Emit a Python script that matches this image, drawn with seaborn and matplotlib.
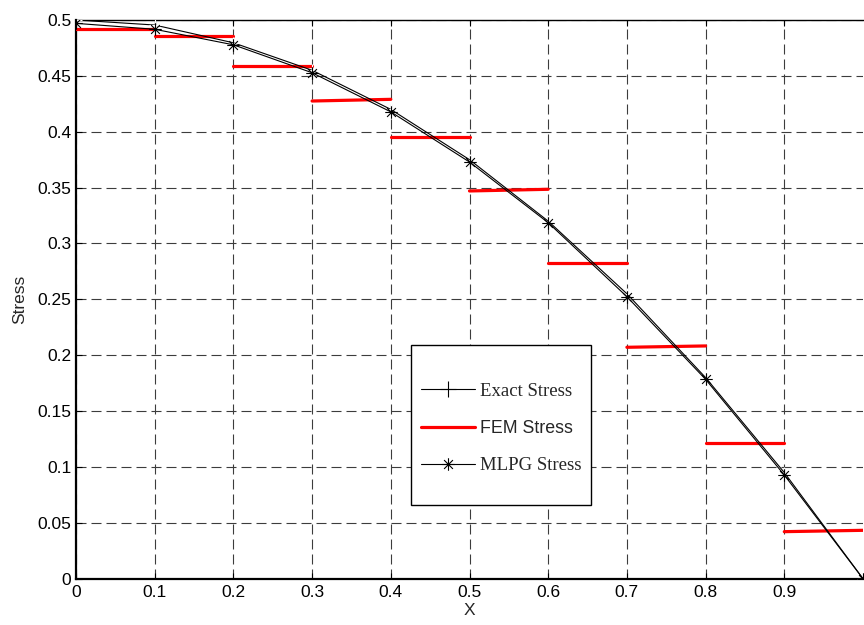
import matplotlib
matplotlib.use("Agg")
import matplotlib.pyplot as plt
import seaborn as sns
import pandas as pd
from matplotlib.lines import Line2D
from matplotlib.path import Path
from matplotlib.patches import Rectangle

# ---- data ----
x_nodes = [0.0, 0.1, 0.2, 0.3, 0.4, 0.5, 0.6, 0.7, 0.8, 0.9, 1.0]
exact_stress = [0.500, 0.4955, 0.4796, 0.455, 0.420, 0.375, 0.320, 0.255, 0.180, 0.095, 0.0]
mlpg_stress = [0.497, 0.4917, 0.4778, 0.4528, 0.4178, 0.3729, 0.3186, 0.2524, 0.1784, 0.0928, 0.0]

fem_x_left = [0.0, 0.1, 0.2, 0.3, 0.4, 0.5, 0.6, 0.7, 0.8, 0.9]
fem_x_right = [0.1, 0.2, 0.3, 0.4, 0.5, 0.6, 0.7, 0.8, 0.9, 1.0]
fem_y_left = [0.492, 0.4854, 0.4588, 0.4275, 0.3956, 0.3470, 0.2822, 0.2071, 0.1214, 0.0421]
fem_y_right = [0.492, 0.4854, 0.4588, 0.4290, 0.3956, 0.3485, 0.2822, 0.2083, 0.1214, 0.0433]

x_ticks = [0, 0.1, 0.2, 0.3, 0.4, 0.5, 0.6, 0.7, 0.8, 0.9]
x_tick_labels = ["0", "0.1", "0.2", "0.3", "0.4", "0.5", "0.6", "0.7", "0.8", "0.9"]
y_ticks = [0, 0.05, 0.1, 0.15, 0.2, 0.25, 0.3, 0.35, 0.4, 0.45, 0.5]
y_tick_labels = ["0", "0.05", "0.1", "0.15", "0.2", "0.25", "0.3", "0.35", "0.4", "0.45", "0.5"]
labels = ["Exact Stress", "FEM Stress", "MLPG Stress"]

# ---- build tables ----
curve_df = pd.DataFrame({"x": x_nodes, "exact": exact_stress, "mlpg": mlpg_stress})
rows = []
for i in range(len(fem_x_left)):
    rows.append({"x": fem_x_left[i], "y": fem_y_left[i], "seg": i})
    rows.append({"x": fem_x_right[i], "y": fem_y_right[i], "seg": i})
fem_df = pd.DataFrame(rows)

# MATLAB-style asterisk marker (+ and x combined)
d = 0.7071
asterisk = Path(
    [(-1, 0), (1, 0), (0, -1), (0, 1), (-d, -d), (d, d), (-d, d), (d, -d)],
    [Path.MOVETO, Path.LINETO] * 4,
)

sns.set_style("white")
plt.rcParams["font.family"] = ["Liberation Sans", "DejaVu Sans"]

fig = plt.figure(figsize=(8.64, 6.25), dpi=100)
ax = fig.add_axes([76 / 864, 1 - 578.7 / 625, 787 / 864, 558.7 / 625])

sns.lineplot(data=fem_df, x="x", y="y", units="seg", estimator=None,
             color="#ff0000", linewidth=2.3, legend=False, ax=ax, zorder=3)
sns.lineplot(data=curve_df, x="x", y="exact", color="black", linewidth=0.8,
             marker="+", markersize=9, markeredgewidth=0.8, ax=ax, zorder=4)
sns.lineplot(data=curve_df, x="x", y="mlpg", color="black", linewidth=0.8,
             marker=asterisk, markersize=9, markeredgewidth=0.8,
             markerfacecolor="black", markeredgecolor="black", ax=ax, zorder=4)

ax.set_xlim(0, 1)
ax.set_ylim(0, 0.5)
ax.set_xticks(x_ticks)
ax.set_xticklabels(x_tick_labels)
ax.set_yticks(y_ticks)
ax.set_yticklabels(y_tick_labels)
ax.tick_params(axis="both", direction="in", length=4, width=0.8,
               labelsize=12.5, colors="black", top=True, bottom=True, left=True, right=False)
ax.tick_params(axis="x", pad=4.5)
ax.tick_params(axis="y", pad=3.5)

ax.grid(True, color="#3c3c3c", linestyle=(0, (9, 4.5)), linewidth=0.8)
ax.set_axisbelow(True)

for side in ["left", "bottom", "top"]:
    ax.spines[side].set_color("black")
    ax.spines[side].set_linewidth(1.0)
ax.spines["bottom"].set_linewidth(1.6)
ax.spines["left"].set_linewidth(1.6)
ax.spines["right"].set_visible(False)

ax.set_xlabel("X", fontsize=12.5, labelpad=2)
ax.set_ylabel("Stress", fontsize=12.5, labelpad=7.5)

# legend frame (MATLAB-like box with generous vertical padding)
box = Rectangle(((411 - 76) / 787, (578.7 - 505) / 558.7), 180 / 787, 160 / 558.7,
                transform=ax.transAxes, facecolor="white", edgecolor="black",
                linewidth=1.0, zorder=6)
ax.add_patch(box)

handles = [
    Line2D([], [], color="black", linewidth=0.8, marker="+", markersize=11, markeredgewidth=0.8),
    Line2D([], [], color="#ff0000", linewidth=2.3),
    Line2D([], [], color="black", linewidth=0.8, marker=asterisk, markersize=9, markeredgewidth=0.8),
]
leg = ax.legend(handles, labels, loc="upper left",
                bbox_to_anchor=((421 - 76) / 787, (578.7 - 382.6) / 558.7),
                frameon=False, fontsize=13.5, numpoints=1, handlelength=2.88,
                handletextpad=0.28, labelspacing=1.08, borderpad=0, borderaxespad=0)
leg.set_zorder(7)
for t, fam, fs in zip(leg.get_texts(),
                      ["Liberation Serif", "Liberation Sans", "Liberation Serif"],
                      [13.5, 12.8, 13.5]):
    t.set_fontfamily(fam)
    t.set_fontsize(fs)

fig.savefig("out.png", dpi=100)
